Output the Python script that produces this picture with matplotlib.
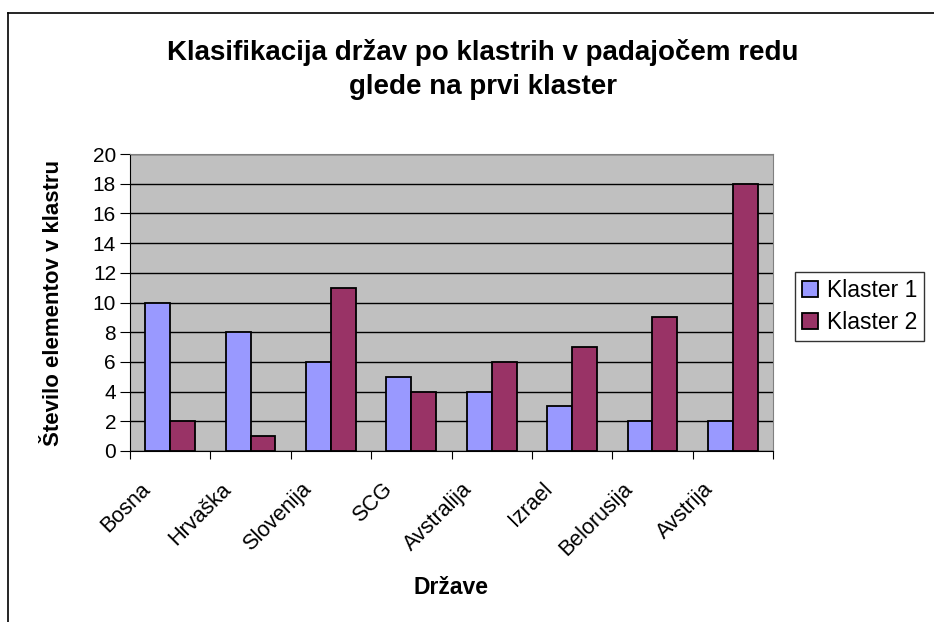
import matplotlib
matplotlib.use("Agg")
import matplotlib.pyplot as plt
import numpy as np
from matplotlib.lines import Line2D
from matplotlib.transforms import ScaledTranslation

# Podatki
drzave = ["Bosna", "Hrvaška", "Slovenija", "SCG", "Avstralija",
          "Izrael", "Belorusija", "Avstrija"]
klaster1 = [10, 8, 6, 5, 4, 3, 2, 2]
klaster2 = [2, 1, 11, 4, 6, 7, 9, 18]

plt.rcParams["font.family"] = ["Liberation Sans", "DejaVu Sans"]

fig = plt.figure(figsize=(9.34, 6.22), dpi=100)
ax = fig.add_axes([130 / 934, 1 - 451 / 622, 643 / 934, 297 / 622])

x = np.arange(len(drzave))
w = 0.31
ax.bar(x - w / 2, klaster1, w, color="#9999FF", edgecolor="black",
       linewidth=1.3, label="Klaster 1", zorder=3)
ax.bar(x + w / 2, klaster2, w, color="#993366", edgecolor="black",
       linewidth=1.3, label="Klaster 2", zorder=3)

ax.set_facecolor("#C0C0C0")
ax.set_xlim(-0.5, len(drzave) - 0.5)
ax.set_ylim(0, 20)
ax.set_yticks(range(0, 21, 2))
ax.yaxis.grid(True, color="black", linewidth=1, zorder=0)
ax.set_axisbelow(True)

# kljukice med kategorijami
ax.set_xticks(np.arange(-0.5, len(drzave), 1))
ax.set_xticklabels([])
ax.set_xticks(x, minor=True)
ax.set_xticklabels(drzave, minor=True, rotation=45, ha="right",
                   rotation_mode="anchor", fontsize=15.5)
ax.tick_params(axis="x", which="minor", length=0, pad=20)
ax.tick_params(axis="x", which="major", length=6, color="black")
ax.tick_params(axis="y", length=7, labelsize=15, pad=3)
odmik = ScaledTranslation(-30 / 100, 0, fig.dpi_scale_trans)
for lab in ax.get_xticklabels(minor=True):
    lab.set_transform(lab.get_transform() + odmik)

for s in ["top", "right"]:
    ax.spines[s].set_color("#808080")
for s in ["left", "bottom"]:
    ax.spines[s].set_color("black")

ax.set_xlabel("Države", fontsize=16.5, fontweight="bold")
ax.xaxis.set_label_coords((451 - 130) / 643, -(588 - 451) / 297)
ax.xaxis.label.set_va("center")
ax.set_ylabel("Število elementov v klastru", fontsize=16, fontweight="bold")
ax.yaxis.set_label_coords(-(130 - 54) / 643, 0.5)
ax.yaxis.label.set_va("center")

fig.text(483 / 934, 1 - 69 / 622,
         "Klasifikacija držav po klastrih v padajočem redu\nglede na prvi klaster",
         ha="center", va="center", fontsize=20, fontweight="bold",
         linespacing=1.4)

leg = fig.legend(loc="upper left", bbox_to_anchor=(795 / 934, 1 - 272 / 622),
                 fontsize=16.5, frameon=True, fancybox=False, handlelength=0.7,
                 handleheight=0.7, handletextpad=0.4, borderpad=0.3,
                 labelspacing=0.4, borderaxespad=0)
leg.get_frame().set_edgecolor("black")
leg.get_frame().set_linewidth(1)

# okvir grafikona
fig.add_artist(Line2D([8 / 934, 1], [1 - 13 / 622, 1 - 13 / 622],
                      color="black", linewidth=1.2))
fig.add_artist(Line2D([8 / 934, 8 / 934], [0, 1 - 13 / 622],
                      color="black", linewidth=1.2))

fig.savefig("out.png", dpi=100)
